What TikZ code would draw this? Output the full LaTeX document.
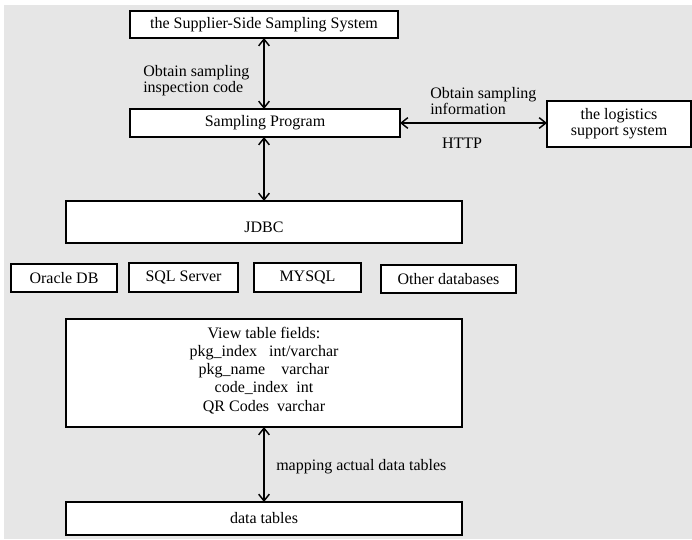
\documentclass[tikz,border=0pt]{standalone}
\usepackage{fontspec}
\setmainfont{Liberation Serif}
\usetikzlibrary{arrows.meta}
\definecolor{bgc}{RGB}{230,230,230}
\begin{document}
\begin{tikzpicture}[x=0.75pt,y=-0.75pt,
  every node/.style={font=\fontsize{12}{12}\selectfont},
  box/.style={draw=black,fill=white,line width=1.3pt,inner sep=0pt,outer sep=0pt,align=center},
  lbl/.style={inner sep=0pt,align=left,anchor=west},
  link/.style={line width=1.1pt,{Straight Barb[length=5pt,width=8pt]}-{Straight Barb[length=5pt,width=8pt]}}
]
\useasboundingbox (0,0) rectangle (692,539);
\fill[bgc] (4,5) rectangle (692,539);

\node[box,minimum width=268*0.75pt,minimum height=27*0.75pt] (sup) at (264,24.5) {the Supplier-Side Sampling System};
\node[box,minimum width=270*0.75pt,minimum height=28*0.75pt] (samp) at (265,123) {Sampling Program};
\node[box,minimum width=144*0.75pt,minimum height=46*0.75pt] (log) at (619,124) {the logistics\\support system};
\node[box,minimum width=396*0.75pt,minimum height=42*0.75pt] (jdbc) at (264,222) {\raisebox{-8pt}[0pt][0pt]{JDBC}};
\node[box,minimum width=106*0.75pt,minimum height=28*0.75pt] (ora) at (64,278) {Oracle DB};
\node[box,minimum width=109*0.75pt,minimum height=29*0.75pt] (sql) at (183.5,277.5) {SQL Server};
\node[box,minimum width=107*0.75pt,minimum height=29*0.75pt] (my) at (307.5,277.5) {MYSQL};
\node[box,minimum width=135*0.75pt,minimum height=28*0.75pt] (oth) at (448.5,279) {Other databases};
\node[box,minimum width=396*0.75pt,minimum height=108*0.75pt,font=\fontsize{12}{13.6}\selectfont] (view) at (264,373)
  {\raisebox{-1.5pt}[0pt][0pt]{\begin{tabular}{@{}c@{}}View table fields:\\[0.3pt]pkg\_index\ \ \ int/varchar\\pkg\_name\ \ \ \ varchar\\code\_index\ \ int\\QR Codes\ \ varchar\end{tabular}}};
\node[box,minimum width=396*0.75pt,minimum height=33*0.75pt] (data) at (264,518.5) {data tables};

\node[lbl] (l1) at (143,81) {Obtain sampling\\inspection code};
\node[lbl] (l2) at (430,101) {Obtain sampling\\information};
\node[inner sep=0pt] (http) at (462,143) {HTTP};
\node[lbl] (l3) at (276,467) {mapping actual data tables};

\draw[link] (sup.south) -- (sup.south |- samp.north);
\draw[link] (samp.east) -- (log.west |- samp.east);
\draw[link] (samp.south -| jdbc.north) -- (jdbc.north);
\draw[link] (view.south) -- (data.north);
\end{tikzpicture}
\end{document}
